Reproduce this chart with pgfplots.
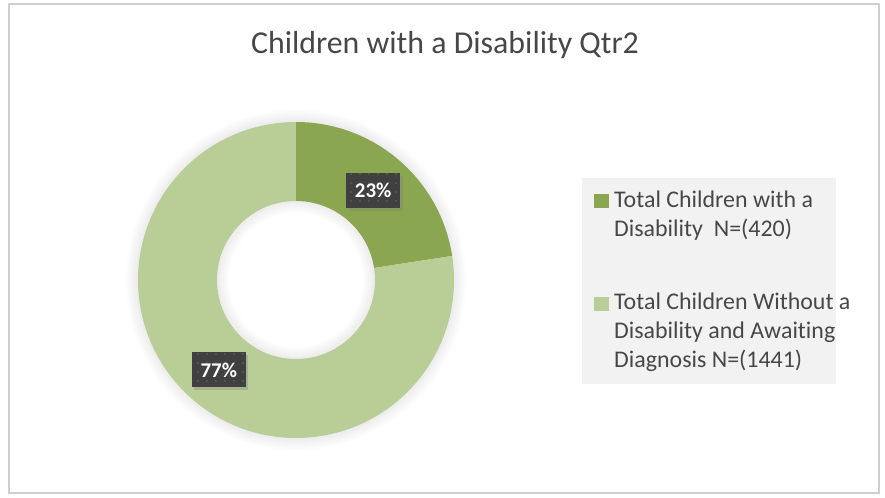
\documentclass[border=0pt]{standalone}
\usepackage{pgfplots}
\pgfplotsset{compat=1.18}
\usepackage{pgfplotstable}
\usepackage{fontspec}
\setmainfont{Carlito}[Ligatures={NoCommon}]
\usetikzlibrary{patterns,patterns.meta,shadows}
\definecolor{darkg}{HTML}{8BA650}
\definecolor{lightg}{HTML}{B8CE96}
\definecolor{txt}{HTML}{474747}
\definecolor{lab}{HTML}{404040}
\definecolor{legbg}{HTML}{F2F2F2}
\definecolor{frame}{HTML}{CFCFCF}

\pgfplotstableread{
label value
a 420
b 1441
}\datatable

\pgfplotstablegetelem{0}{value}\of\datatable \let\va\pgfplotsretval
\pgfplotstablegetelem{1}{value}\of\datatable \let\vb\pgfplotsretval
\pgfmathsetmacro\tot{\va+\vb}
\pgfmathsetmacro\fa{\va/\tot}
\pgfmathsetmacro\fb{\vb/\tot}
\pgfmathsetmacro\anga{360*\fa}
\pgfmathsetmacro\enda{90-\anga}
\pgfmathsetmacro\endb{\enda-360*\fb}
\pgfmathsetmacro\mida{90-\anga/2}
\pgfmathsetmacro\midb{(\enda+\endb)/2}
\pgfmathtruncatemacro\pcta{round(100*\fa)}
\pgfmathtruncatemacro\pctb{round(100*\fb)}
\def\cx{296}\def\cy{218}
\def\Ro{158}\def\Ri{79}
\pgfmathsetmacro\Rm{(\Ro+\Ri)/2}
\pgfmathsetmacro\lax{\cx+\Rm*cos(\mida)}
\pgfmathsetmacro\lay{\cy+\Rm*sin(\mida)}
\pgfmathsetmacro\lbx{\cx+\Rm*cos(\midb)}
\pgfmathsetmacro\lby{\cy+\Rm*sin(\midb)}

\begin{document}
\begin{tikzpicture}[x=1bp,y=1bp]
\begin{axis}[x=1bp,y=1bp,xmin=0,xmax=885,ymin=0,ymax=498,
  hide axis, clip=false, at={(0,0)}, anchor=origin, scale only axis]
% background and frame
\fill[white] (axis cs:0,0) rectangle (axis cs:885,498);
\draw[frame, line width=1.5bp] (axis cs:9,5) rectangle (axis cs:879,494);
% title
\node[anchor=base, text=txt, font=\fontsize{32}{38}\selectfont] at (axis cs:445,444) {Children with a Disability Qtr2};
% soft glow
\path (axis cs:\cx,\cy) coordinate (C);
\pgfplotsinvokeforeach{2,4,6,8,10,12}{
  \fill[black, opacity=0.012, even odd rule] (C) circle[radius={(\Ro+#1)*1bp}] (C) circle[radius={(\Ri-#1)*1bp}];
}
% slices
\fill[darkg] ([shift={(90:\Ro bp)}]C) arc[start angle=90,end angle=\enda,radius=\Ro bp]
  -- ([shift={(\enda:\Ri bp)}]C) arc[start angle=\enda,end angle=90,radius=\Ri bp] -- cycle;
\fill[lightg] ([shift={(\enda:\Ro bp)}]C) arc[start angle=\enda,end angle=\endb,radius=\Ro bp]
  -- ([shift={(\endb:\Ri bp)}]C) arc[start angle=\endb,end angle=\enda,radius=\Ri bp] -- cycle;
% labels
\tikzset{lbl/.style={fill=lab, text=white, font=\bfseries\fontsize{21}{24}\selectfont,
  minimum width=54bp, minimum height=35bp, inner sep=0pt,
  postaction={pattern={Dots[distance=9bp,radius=0.9bp]}, pattern color=gray!55!lab},
  drop shadow={shadow xshift=2.5bp, shadow yshift=-3bp, opacity=0.35}}}
\node[lbl] at (axis cs:\lax,\lay) {\pcta\%};
\node[lbl] at (axis cs:\lbx,\lby) {\pctb\%};
% legend
\fill[legbg] (axis cs:582,114) rectangle (axis cs:836,320);
\fill[darkg] (axis cs:594,290) rectangle (axis cs:609,304);
\fill[lightg] (axis cs:594,187) rectangle (axis cs:609,201);
\tikzset{leg/.style={anchor=base west, text=txt, font=\fontsize{24}{28}\selectfont, inner sep=0pt}}
\node[leg] at (axis cs:614,290) {Total Children with a};
\node[leg] at (axis cs:614,261) {Disability\ \ N=(420)};
\node[leg] at (axis cs:614,188) {Total Children Without a};
\node[leg] at (axis cs:614,159) {Disability and Awaiting};
\node[leg] at (axis cs:614,130) {Diagnosis N=(1441)};
\end{axis}
\end{tikzpicture}
\end{document}
